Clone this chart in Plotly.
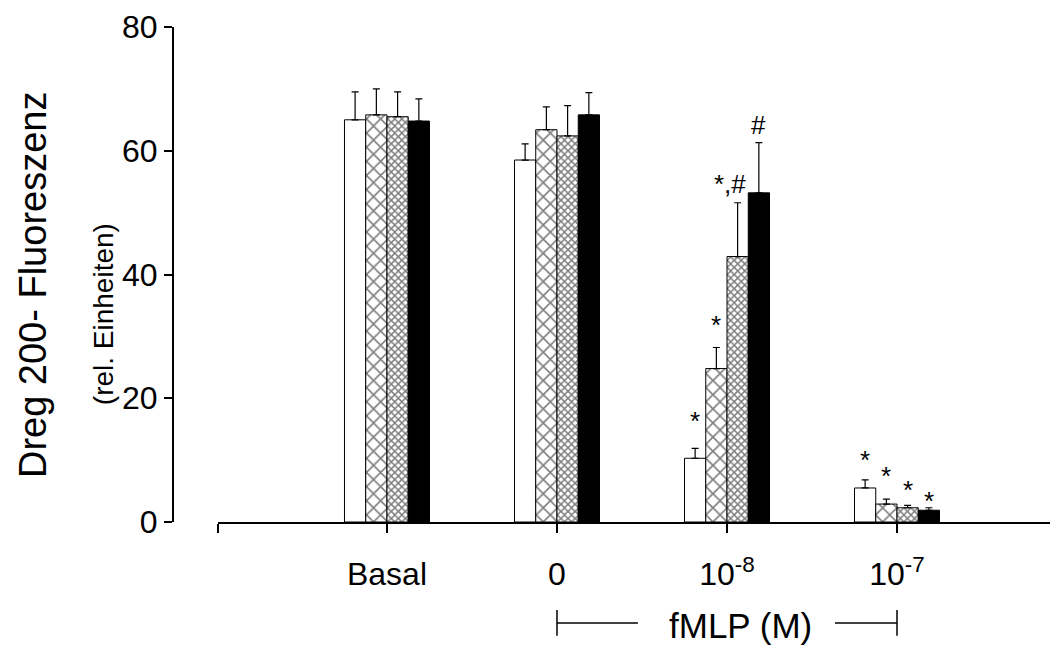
import plotly.graph_objects as go

categories = ["Basal", "0", "10<sup>-8</sup>", "10<sup>-7</sup>"]
cat_pos = [0, 1, 2, 3]

series_names = ["A", "B", "C", "D"]
means = [
    [65.0, 58.5, 10.3, 5.5],
    [65.8, 63.4, 24.8, 2.9],
    [65.5, 62.4, 42.9, 2.3],
    [64.8, 65.8, 53.2, 1.9],
]
sems = [
    [4.5, 2.6, 1.6, 1.3],
    [4.2, 3.7, 3.4, 0.8],
    [4.0, 4.9, 8.7, 0.4],
    [3.6, 3.6, 8.1, 0.4],
]

# significance labels: (category index, series index, text, label y, x shift px)
sig_labels = [
    (2, 0, "*", 16.4, 0),
    (2, 1, "*", 31.9, 0),
    (2, 2, "*,#", 54.6, -8),
    (2, 3, "#", 64.2, 0),
    (3, 0, "*", 10.0, 0),
    (3, 1, "*", 7.5, 0),
    (3, 2, "*", 5.1, 0),
    (3, 3, "*", 3.4, 0),
]

fills = [
    dict(color="white"),
    dict(color="white", pattern=dict(shape="x", size=10, solidity=0.3, fgcolor="black", bgcolor="white")),
    dict(color="white", pattern=dict(shape="x", size=5, solidity=0.5, fgcolor="black", bgcolor="white")),
    dict(color="black"),
]

FONT = "Arial, Liberation Sans, Helvetica, sans-serif"

fig = go.Figure()
for j in range(4):
    fig.add_trace(go.Bar(
        x=cat_pos, y=means[j], name=series_names[j],
        marker=dict(line=dict(color="black", width=1), **fills[j]),
        error_y=dict(type="data", symmetric=False, array=sems[j],
                     arrayminus=[0] * 4, color="black", thickness=1.2, width=3.5),
        showlegend=False,
    ))

n_series = 4
group_w = 0.5
bar_w = group_w / n_series
for (ci, sj, txt, ly, xs) in sig_labels:
    xpos = cat_pos[ci] + (sj - (n_series - 1) / 2) * bar_w
    fig.add_annotation(x=xpos, y=ly, xref="x", yref="y", text=txt, showarrow=False,
                       xshift=xs,
                       font=dict(family=FONT, size=26, color="black"),
                       xanchor="center", yanchor="middle")

x0 = -0.994
fig.update_layout(
    width=1050, height=638,
    margin=dict(l=165, r=0, t=19, b=124),
    paper_bgcolor="white", plot_bgcolor="white",
    barmode="group", bargap=0.5, bargroupgap=0,
    font=dict(family=FONT, size=32, color="black"),
    xaxis=dict(domain=[45 / 885, 1], range=[x0, 3.947],
               tickmode="array", tickvals=[x0] + cat_pos, ticktext=[""] + categories,
               showline=True, linecolor="black", linewidth=2,
               ticks="outside", ticklen=9, tickwidth=2, tickcolor="black",
               ticklabelstandoff=14,
               showgrid=False, zeroline=False,
               tickfont=dict(family=FONT, size=32, color="black")),
    yaxis=dict(range=[0, 80], anchor="free", position=0,
               tickmode="array", tickvals=[0, 20, 40, 60, 80],
               showline=True, linecolor="black", linewidth=2,
               ticks="outside", ticklen=8, tickwidth=2, tickcolor="black",
               showgrid=False, zeroline=False,
               tickfont=dict(family=FONT, size=32, color="black")),
)

# axis titles
fig.add_annotation(x=-0.158, y=0.479, xref="paper", yref="paper", text="Dreg 200- Fluoreszenz",
                   textangle=-90, showarrow=False, xanchor="center", yanchor="middle",
                   font=dict(family=FONT, size=38, color="black"))
fig.add_annotation(x=-0.079, y=0.42, xref="paper", yref="paper", text="(rel. Einheiten)",
                   textangle=-90, showarrow=False, xanchor="center", yanchor="middle",
                   font=dict(family=FONT, size=28, color="black"))

# fMLP bracket
yb = -0.204
fig.add_annotation(x=2.08, y=-0.21, xref="x", yref="paper", text="fMLP (M)", showarrow=False,
                   xanchor="center", yanchor="middle", font=dict(family=FONT, size=35, color="black"))
lc = dict(color="black", width=1.5)
fig.add_shape(type="line", xref="x", yref="paper", x0=1, x1=1.476, y0=yb, y1=yb, line=lc)
fig.add_shape(type="line", xref="x", yref="paper", x0=2.635, x1=3, y0=yb, y1=yb, line=lc)
fig.add_shape(type="line", xref="x", yref="paper", x0=1, x1=1, y0=yb - 0.026, y1=yb + 0.026, line=lc)
fig.add_shape(type="line", xref="x", yref="paper", x0=3, x1=3, y0=yb - 0.026, y1=yb + 0.026, line=lc)

fig.write_html("out.html")
